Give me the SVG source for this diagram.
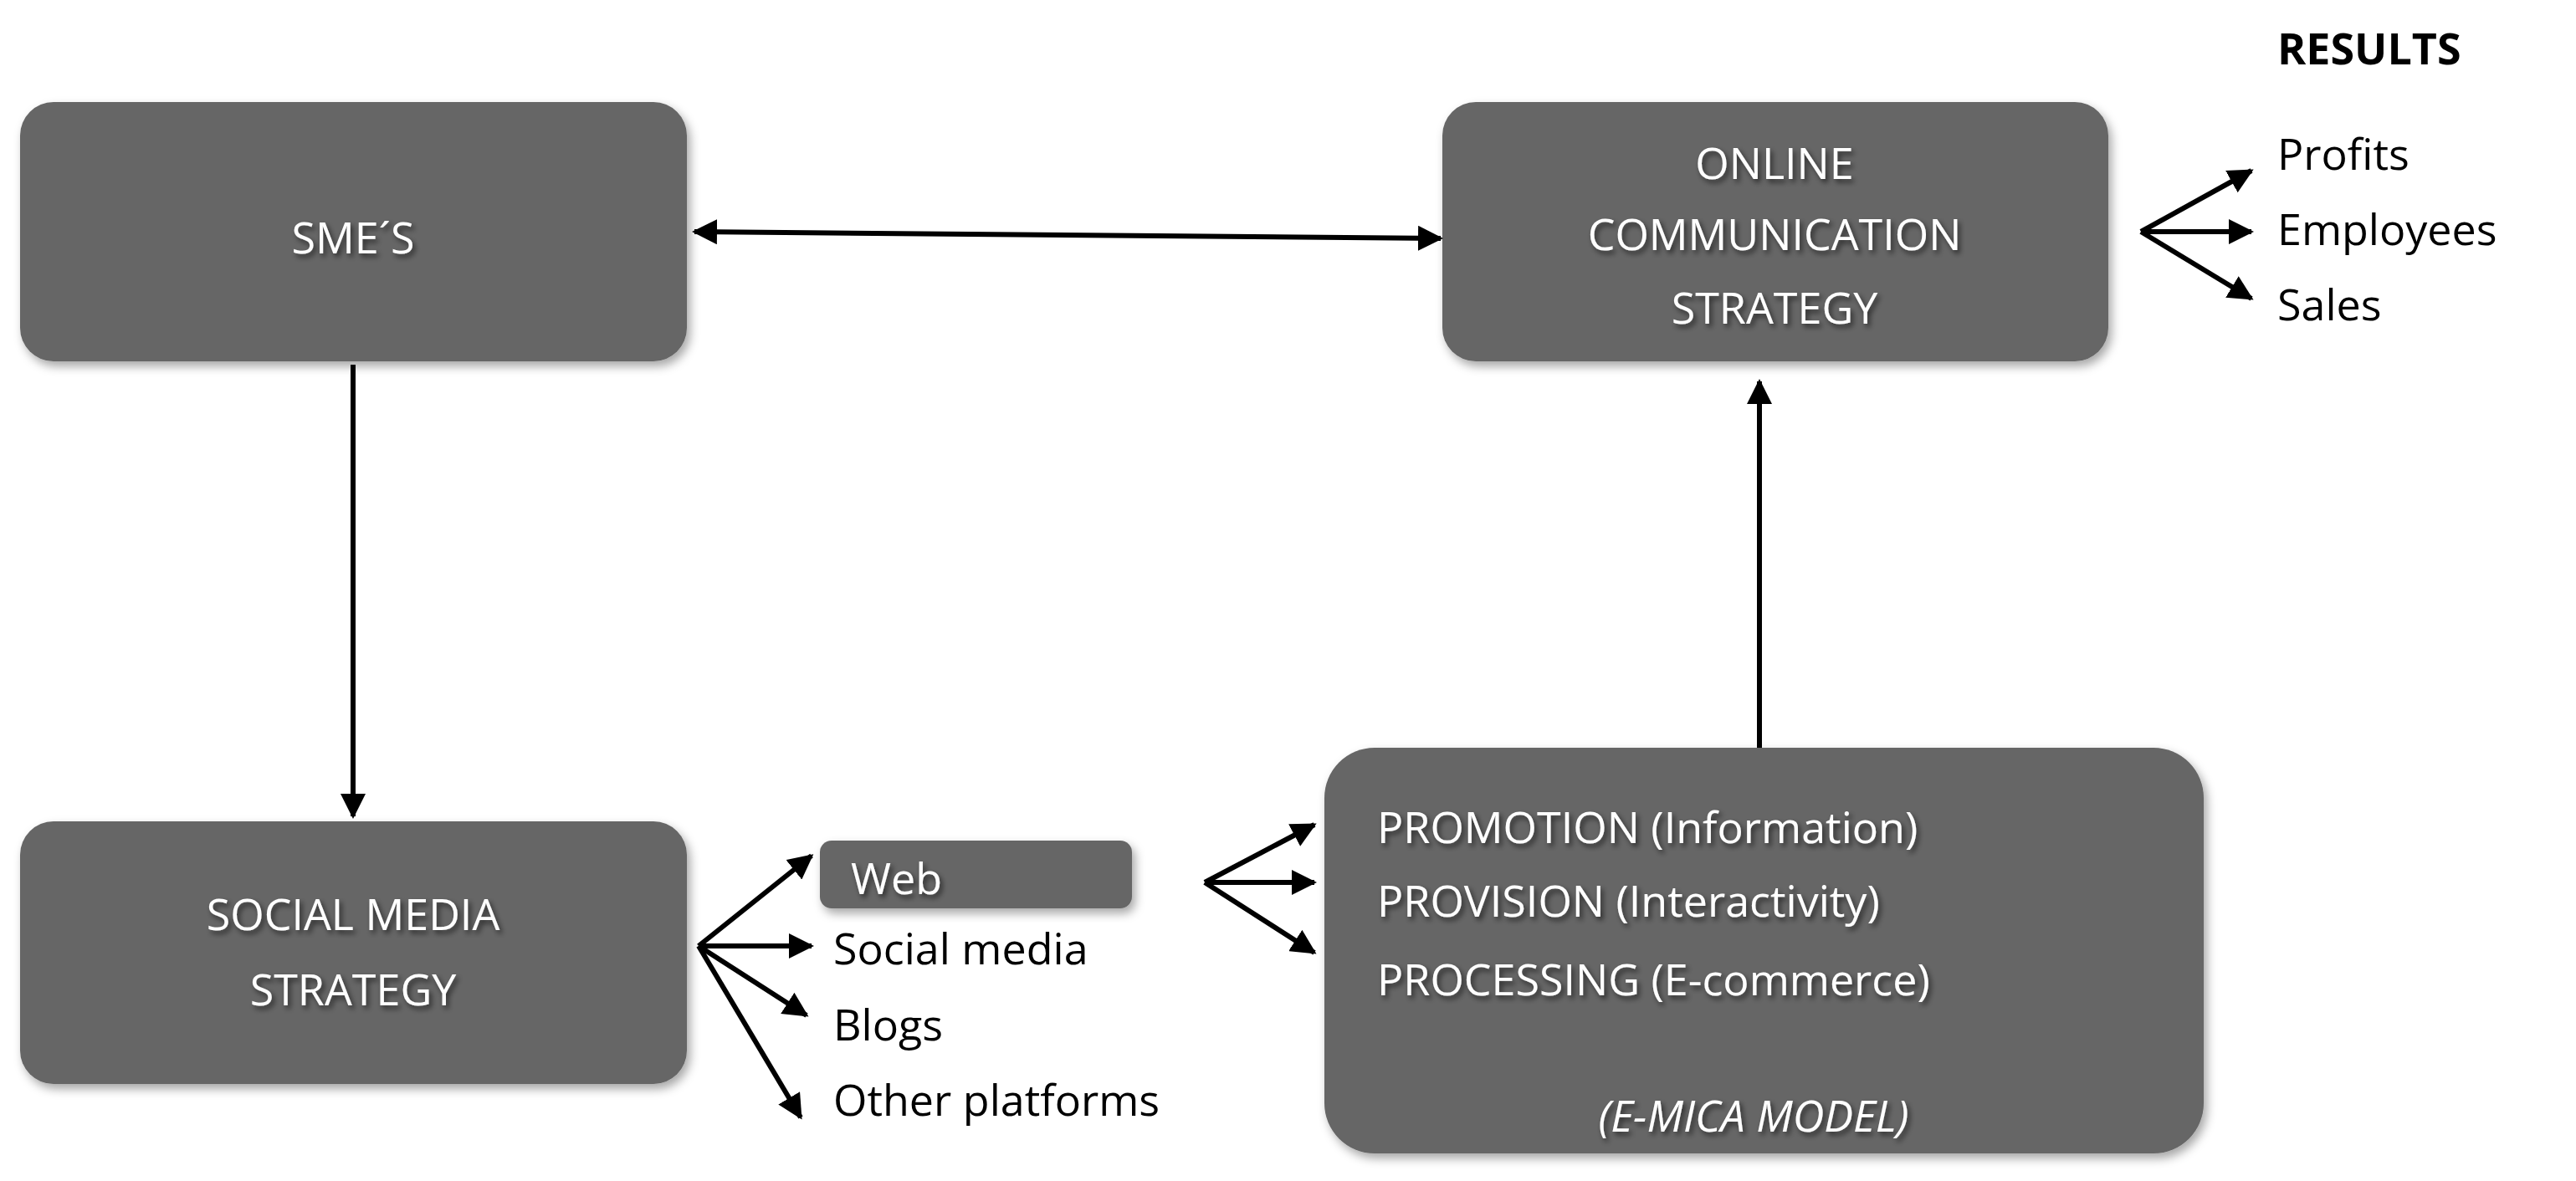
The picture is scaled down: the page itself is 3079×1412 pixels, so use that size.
<svg xmlns="http://www.w3.org/2000/svg" width="3079" height="1412" viewBox="0 0 3079 1412">
<defs>
<filter id="sh" x="-10%" y="-10%" width="125%" height="130%"><feDropShadow dx="4" dy="6" stdDeviation="6" flood-color="#000" flood-opacity="0.35"/></filter>
<filter id="tsh" x="-10%" y="-20%" width="125%" height="150%"><feDropShadow dx="3" dy="4" stdDeviation="3" flood-color="#000" flood-opacity="0.6"/></filter>
<marker id="ah" viewBox="0 0 10 10" refX="9" refY="5" markerWidth="5" markerHeight="5" orient="auto-start-reverse"><path d="M0,0 L10,5 L0,10 z" fill="#000"/></marker>
<style>
.box{fill:#666;filter:url(#sh)}
.wt{fill:#fff;font-family:"Open Sans","Liberation Sans",sans-serif;font-size:52px;filter:url(#tsh)}
.bt{fill:#000;font-family:"Open Sans","Liberation Sans",sans-serif;font-size:52px}
.c{stroke:#000;stroke-width:6;fill:none;marker-end:url(#ah)}
</style>
</defs>
<rect width="3079" height="1412" fill="#fff"/>
<g id="smes"><rect class="box" x="24" y="122" width="797" height="310" rx="40"/><text class="wt" x="422" y="303" text-anchor="middle">SME´S</text></g>
<g id="online"><rect class="box" x="1724" y="122" width="796" height="310" rx="40"/>
<text class="wt" x="2121" y="214" text-anchor="middle">ONLINE</text>
<text class="wt" x="2121" y="299" text-anchor="middle">COMMUNICATION</text>
<text class="wt" x="2121" y="387" text-anchor="middle">STRATEGY</text></g>
<g id="social"><rect class="box" x="24" y="982" width="797" height="314" rx="40"/>
<text class="wt" x="422" y="1112" text-anchor="middle">SOCIAL MEDIA</text>
<text class="wt" x="422" y="1202" text-anchor="middle">STRATEGY</text></g>
<g id="web"><rect class="box" x="980" y="1005" width="373" height="81" rx="14"/><text class="wt" x="1017" y="1069">Web</text></g>
<g id="channels">
<text class="bt" x="996" y="1153">Social media</text>
<text class="bt" x="996" y="1244">Blogs</text>
<text class="bt" x="996" y="1334">Other platforms</text></g>
<g id="emica"><rect class="box" x="1583" y="894" width="1051" height="485" rx="60"/>
<text class="wt" x="1646" y="1008">PROMOTION (Information)</text>
<text class="wt" x="1646" y="1096">PROVISION (Interactivity)</text>
<text class="wt" x="1646" y="1190">PROCESSING (E-commerce)</text>
<text class="wt" x="2096" y="1353" text-anchor="middle" font-style="italic">(E-MICA MODEL)</text></g>
<g id="results">
<text class="bt" x="2722" y="77" font-weight="bold">RESULTS</text>
<text class="bt" x="2722" y="203">Profits</text>
<text class="bt" x="2722" y="293">Employees</text>
<text class="bt" x="2722" y="383">Sales</text></g>
<g id="connectors">
<path class="c" d="M830,277 L1722,285" marker-start="url(#ah)"/>
<path class="c" d="M422,436 L422,976"/>
<path class="c" d="M2103,894 L2103,456"/>
<path class="c" d="M2559,277 L2691,204"/>
<path class="c" d="M2559,277 L2691,277"/>
<path class="c" d="M2559,277 L2691,357"/>
<path class="c" d="M835,1131 L970,1023"/>
<path class="c" d="M835,1131 L970,1131"/>
<path class="c" d="M835,1131 L964,1214"/>
<path class="c" d="M835,1131 L957,1336"/>
<path class="c" d="M1440,1055 L1571,986"/>
<path class="c" d="M1440,1055 L1571,1055"/>
<path class="c" d="M1440,1055 L1571,1139"/>
</g>
</svg>
